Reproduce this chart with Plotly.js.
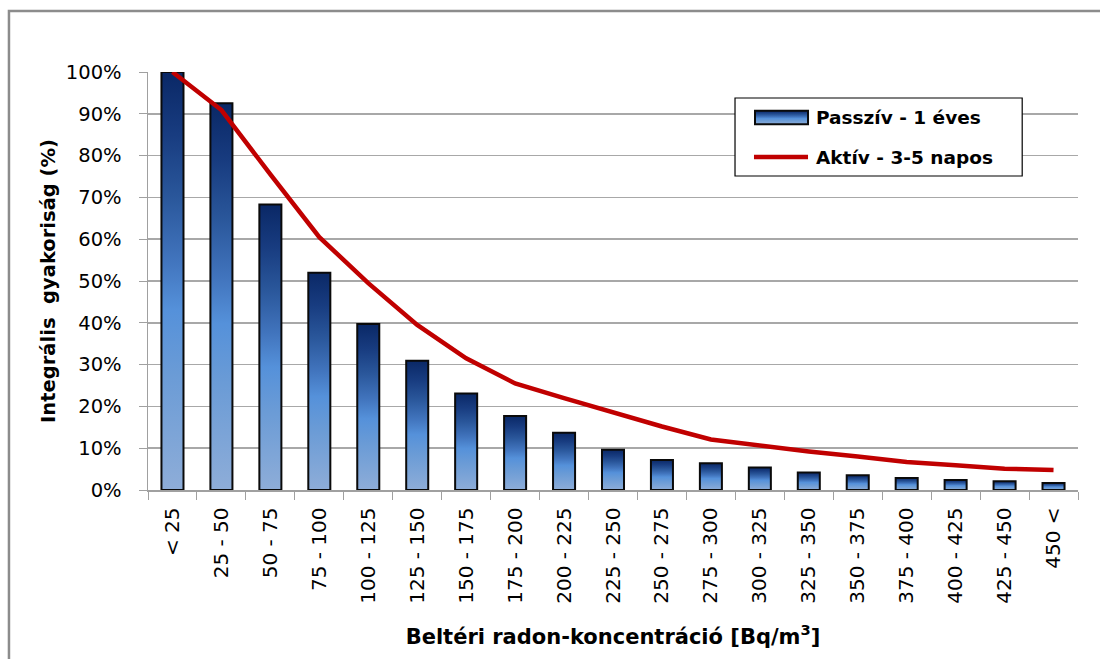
<!DOCTYPE html>
<html>
<head>
<meta charset="utf-8">
<script src="https://cdn.plot.ly/plotly-3.0.1.min.js"></script>
<style>
  html, body { margin: 0; padding: 0; background: #ffffff; }
  #chart { width: 1100px; height: 659px; }
</style>
</head>
<body>
<div id="chart"></div>
<script>
// Radon concentration classes (Bq/m3)
const categories = ['< 25', '25 - 50', '50 - 75', '75 - 100', '100 - 125', '125 - 150',
  '150 - 175', '175 - 200', '200 - 225', '225 - 250', '250 - 275', '275 - 300',
  '300 - 325', '325 - 350', '350 - 375', '375 - 400', '400 - 425', '425 - 450', '450 <'];

// Cumulative frequency (%) – passive, 1-year measurements
const passiveValues = [100, 92.5, 68.3, 52.0, 39.7, 30.9, 23.1, 17.7, 13.7, 9.6,
  7.2, 6.4, 5.4, 4.2, 3.5, 2.9, 2.4, 2.1, 1.7];

// Cumulative frequency (%) – active, 3-5 day measurements
const activeValues = [100, 90.9, 75.5, 60.5, 49.5, 39.5, 31.5, 25.5, 22.0, 18.6,
  15.2, 12.1, 10.6, 9.2, 8.0, 6.7, 5.9, 5.1, 4.8];

const passiveName = 'Passzív - 1 éves';
const activeName = 'Aktív - 3-5 napos';

const FONT = 'DejaVu Sans, sans-serif';

const traces = [
  {
    type: 'bar',
    name: passiveName,
    x: categories,
    y: passiveValues,
    marker: { color: '#4a86d0', line: { color: '#0a0a0a', width: 2 } },
    hovertemplate: '%{x}: %{y}%<extra></extra>'
  },
  {
    type: 'scatter',
    mode: 'lines',
    name: activeName,
    x: categories,
    y: activeValues,
    line: { color: '#c00000', width: 4.5 },
    cliponaxis: false,
    hovertemplate: '%{x}: %{y}%<extra></extra>'
  }
];

const layout = {
  width: 1100,
  height: 659,
  margin: { l: 148, r: 22, t: 72, b: 169 },
  paper_bgcolor: '#ffffff',
  plot_bgcolor: '#ffffff',
  showlegend: false,
  bargap: 0.55,
  font: { family: FONT, color: '#000000', size: 19 },
  xaxis: {
    type: 'category',
    tickangle: -90,
    tickson: 'boundaries',
    ticks: 'outside',
    ticklen: 8,
    tickwidth: 1,
    tickcolor: '#a0a0a0',
    ticklabelstandoff: 8,
    showline: true,
    linecolor: '#a0a0a0',
    linewidth: 1.5,
    showgrid: false,
    tickfont: { family: FONT, size: 20, color: '#000000' },
    title: {
      text: 'Beltéri radon-koncentráció [Bq/m<sup>3</sup>]',
      font: { family: FONT, size: 21, color: '#000000', weight: 'bold' },
      standoff: 26
    }
  },
  yaxis: {
    range: [0, 100],
    dtick: 10,
    ticksuffix: '%',
    ticks: 'outside',
    ticklen: 8,
    tickwidth: 1,
    tickcolor: '#a0a0a0',
    ticklabelstandoff: 13,
    showline: true,
    linecolor: '#a0a0a0',
    linewidth: 1.5,
    showgrid: true,
    gridcolor: '#a8a8a8',
    gridwidth: 1.5,
    zeroline: false,
    tickfont: { family: FONT, size: 19.5, color: '#000000' },
    title: {
      text: 'Integrális  gyakoriság (%)',
      font: { family: FONT, size: 19.5, color: '#000000', weight: 'bold' },
      standoff: 5
    }
  },
  shapes: [
    // outer chart frame
    { type: 'rect', xref: 'paper', yref: 'paper', x0: -0.1495, x1: 1.1, y0: -0.5, y1: 1.146,
      line: { color: '#8c8c8c', width: 2.5 }, fillcolor: 'rgba(0,0,0,0)', layer: 'below' },
    // legend box
    { type: 'rect', xref: 'paper', yref: 'paper', x0: 0.6312, x1: 0.9400, y0: 0.7512, y1: 0.9378,
      line: { color: '#000000', width: 1.2 }, fillcolor: '#ffffff', layer: 'above' },
    // legend swatch for bars
    { type: 'rect', xref: 'paper', yref: 'paper', x0: 0.6527, x1: 0.7097, y0: 0.8749, y1: 0.9074,
      line: { color: '#0a0a0a', width: 2 }, fillcolor: '#4a86d1', layer: 'above' },
    // legend swatch for line
    { type: 'line', xref: 'paper', yref: 'paper', x0: 0.6516, x1: 0.7097, y0: 0.7967, y1: 0.7967,
      line: { color: '#c00000', width: 4.5 }, layer: 'above' }
  ],
  annotations: [
    { xref: 'paper', yref: 'paper', x: 0.7161, y: 0.890, xanchor: 'left', yanchor: 'middle',
      text: '<b>' + passiveName + '</b>', showarrow: false,
      font: { family: FONT, size: 18.5, color: '#000000' } },
    { xref: 'paper', yref: 'paper', x: 0.7161, y: 0.7943, xanchor: 'left', yanchor: 'middle',
      text: '<b>' + activeName + '</b>', showarrow: false,
      font: { family: FONT, size: 18.5, color: '#000000' } }
  ]
};

Plotly.newPlot('chart', traces, layout, { displayModeBar: false, staticPlot: true }).then(function (gd) {
  // vertical gradient fill for the bars: navy top, bright blue middle, pale blue bottom
  const svg = gd.querySelector('svg.main-svg');
  const ns = 'http://www.w3.org/2000/svg';
  let defs = svg.querySelector('defs');
  if (!defs) { defs = document.createElementNS(ns, 'defs'); svg.insertBefore(defs, svg.firstChild); }
  const grad = document.createElementNS(ns, 'linearGradient');
  grad.setAttribute('id', 'barGrad');
  grad.setAttribute('x1', '0'); grad.setAttribute('y1', '0');
  grad.setAttribute('x2', '0'); grad.setAttribute('y2', '1');
  [[0, '#0a2866'], [0.15, '#183c80'], [0.3, '#2a579b'], [0.45, '#4174bd'],
   [0.57, '#5591da'], [0.72, '#6a9bd6'], [1, '#8eadd8']].forEach(function (s) {
    const st = document.createElementNS(ns, 'stop');
    st.setAttribute('offset', s[0]);
    st.setAttribute('stop-color', s[1]);
    grad.appendChild(st);
  });
  defs.appendChild(grad);
  gd.querySelectorAll('.barlayer .point path').forEach(function (p) {
    p.style.fill = 'url(#barGrad)';
    p.style.fillOpacity = 1;
  });
  gd.querySelectorAll('.shapelayer path').forEach(function (p) {
    const f = p.style.fill || '';
    if (f.indexOf('74, 134, 209') !== -1 || f === '#4a86d1') {
      p.style.fill = 'url(#barGrad)';
    }
  });
});
</script>
</body>
</html>
